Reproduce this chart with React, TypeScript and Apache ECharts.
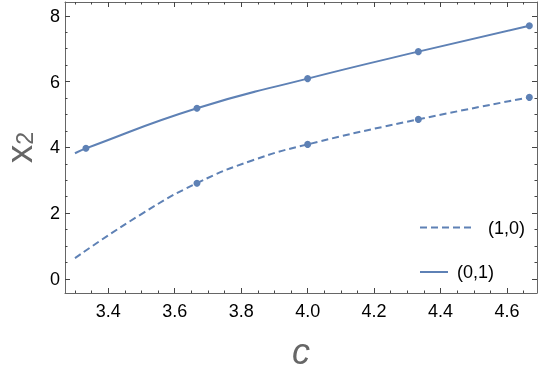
import React, { useEffect, useRef } from "react";
import * as echarts from "echarts";

// ---- data ----
const cSolid = [3.3, 3.333, 3.667, 4.0, 4.333, 4.667];
const x2Solid = [3.82, 3.97, 5.19, 6.09, 6.91, 7.7];
const solidMarked = [false, true, true, true, true, true];

const cDashed = [3.3, 3.5, 3.667, 3.833, 4.0, 4.333, 4.667];
const x2Dashed = [0.63, 1.97, 2.91, 3.6, 4.09, 4.85, 5.52];
const dashedMarked = [false, false, true, false, true, true, true];

const xMajorTicks = [3.4, 3.6, 3.8, 4.0, 4.2, 4.4, 4.6];
const xMinorTicks = [3.3, 3.35, 3.45, 3.5, 3.55, 3.65, 3.7, 3.75, 3.85, 3.9, 3.95, 4.05, 4.1, 4.15, 4.25, 4.3, 4.35, 4.45, 4.5, 4.55, 4.65];
const yMajorTicks = [0, 2, 4, 6, 8];
const yMinorTicks = [0.5, 1, 1.5, 2.5, 3, 3.5, 4.5, 5, 5.5, 6.5, 7, 7.5];

const seriesNames = ["(1,0)", "(0,1)"];

const X_MIN = 3.27, X_MAX = 4.69, Y_MIN = -0.43, Y_MAX = 8.42;
const COLOR = "#5E81B5";
const FRAME = "#666666";
const TICK = "#444444";
const FONT = "Liberation Sans, Arial, sans-serif";

function mkX(position: string, ticks: number[], len: number, line: boolean, label: boolean, extra: any = {}) {
  return {
    type: "value", position, min: X_MIN, max: X_MAX, gridIndex: 0,
    axisLine: { show: line, onZero: false, lineStyle: { color: FRAME, width: 1 } },
    axisTick: { show: true, inside: true, length: len, customValues: ticks, lineStyle: { color: TICK, width: 1 } },
    axisLabel: label
      ? { show: true, customValues: ticks, margin: 9, color: "#000", fontSize: 18, fontFamily: FONT, formatter: (v: number) => v.toFixed(1) }
      : { show: false },
    splitLine: { show: false },
    ...extra,
  };
}
function mkY(position: string, ticks: number[], len: number, line: boolean, label: boolean, extra: any = {}) {
  return {
    type: "value", position, min: Y_MIN, max: Y_MAX, gridIndex: 0,
    axisLine: { show: line, onZero: false, lineStyle: { color: FRAME, width: 1 } },
    axisTick: { show: true, inside: true, length: len, customValues: ticks, lineStyle: { color: TICK, width: 1 } },
    axisLabel: label
      ? { show: true, customValues: ticks, margin: 5, color: "#000", fontSize: 18, fontFamily: FONT, formatter: (v: number) => String(Math.round(v)) }
      : { show: false },
    splitLine: { show: false },
    ...extra,
  };
}

export default function App() {
  const ref = useRef<HTMLDivElement>(null);
  useEffect(() => {
    if (!ref.current) return;
    const chart = echarts.init(ref.current, null, { renderer: "svg" });
    const solidData = cSolid.map((c, i) => ({ value: [c, x2Solid[i]], symbolSize: solidMarked[i] ? 7 : 0 }));
    const dashedData = cDashed.map((c, i) => ({ value: [c, x2Dashed[i]], symbolSize: dashedMarked[i] ? 7 : 0 }));
    chart.setOption({
      animation: false,
      grid: { left: 65, right: 3, top: 2, bottom: 78, show: false, containLabel: false, outerBoundsMode: "none" },
      xAxis: [
        mkX("bottom", xMajorTicks, 5, true, true, {
          name: "c", nameLocation: "middle", nameGap: 40,
          nameTextStyle: { fontSize: 36, lineHeight: 36, fontStyle: "italic", color: "#666", fontFamily: FONT },
        }),
        mkX("bottom", xMinorTicks, 2.5, false, false),
        mkX("top", xMajorTicks, 5, true, false),
        mkX("top", xMinorTicks, 2.5, false, false),
      ],
      yAxis: [
        mkY("left", yMajorTicks, 5, true, true, {
          name: "{x|x}{s|2}", nameLocation: "middle", nameGap: 29, nameRotate: 90,
          nameTextStyle: {
            color: "#666",
            rich: {
              x: { fontSize: 37, lineHeight: 34, color: "#666", fontFamily: FONT },
              s: { fontSize: 23, lineHeight: 10, color: "#666", fontFamily: FONT, verticalAlign: "bottom" },
            },
          },
        }),
        mkY("left", yMinorTicks, 2.5, false, false),
        mkY("right", yMajorTicks, 5, true, false),
        mkY("right", yMinorTicks, 2.5, false, false),
      ],
      series: [
        {
          name: seriesNames[0], type: "line", xAxisIndex: 0, yAxisIndex: 0,
          data: dashedData, smooth: 0.5,
          symbol: "circle", showSymbol: true, showAllSymbol: true,
          lineStyle: { color: COLOR, width: 2, type: [7, 4] },
          itemStyle: { color: COLOR },
        },
        {
          name: seriesNames[1], type: "line", xAxisIndex: 0, yAxisIndex: 0,
          data: solidData, smooth: 0.5,
          symbol: "circle", showSymbol: true, showAllSymbol: true,
          lineStyle: { color: COLOR, width: 2 },
          itemStyle: { color: COLOR },
        },
      ],
      graphic: [
        { type: "line", shape: { x1: 420, y1: 227.5, x2: 475, y2: 227.5 }, style: { stroke: COLOR, lineWidth: 2, lineDash: [7, 4] } },
        { type: "text", x: 488, y: 227.5, style: { text: seriesNames[0], fill: "#000", font: `18px ${FONT}`, verticalAlign: "middle" } },
        { type: "line", shape: { x1: 420, y1: 272, x2: 448, y2: 272 }, style: { stroke: COLOR, lineWidth: 2 } },
        { type: "text", x: 457, y: 272, style: { text: seriesNames[1], fill: "#000", font: `18px ${FONT}`, verticalAlign: "middle" } },
      ],
    });
    return () => chart.dispose();
  }, []);
  return <div ref={ref} style={{ position: "fixed", left: 0, top: 0, width: 540, height: 371 }} />;
}
